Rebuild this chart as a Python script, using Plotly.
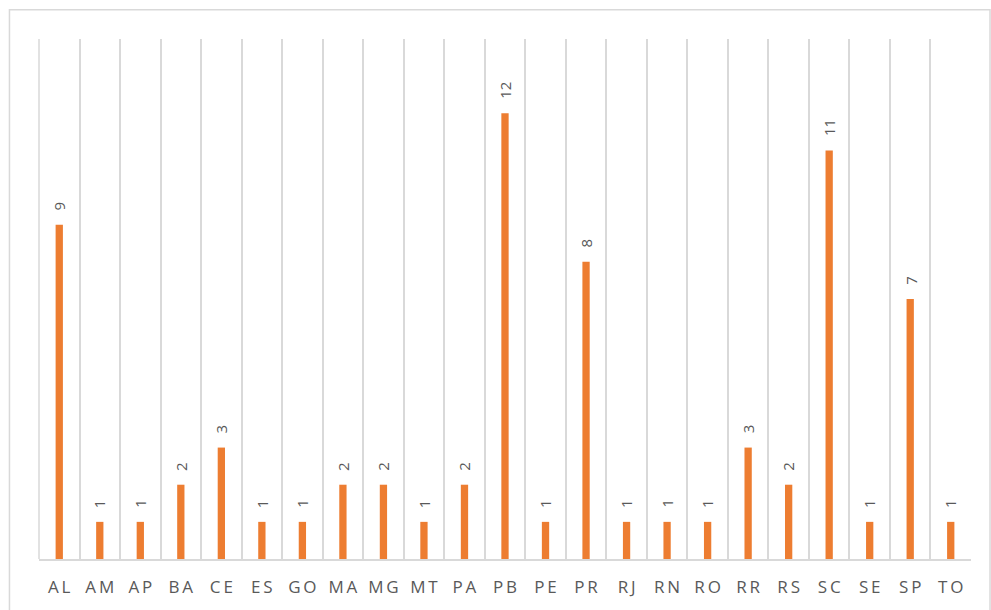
import plotly.graph_objects as go

states = ["AL", "AM", "AP", "BA", "CE", "ES", "GO", "MA", "MG", "MT", "PA", "PB",
          "PE", "PR", "RJ", "RN", "RO", "RR", "RS", "SC", "SE", "SP", "TO"]
counts = [9, 1, 1, 2, 3, 1, 1, 2, 2, 1, 2, 12, 1, 8, 1, 1, 1, 3, 2, 11, 1, 7, 1]

bar_color = "#ED7D31"
grid_color = "#D9D9D9"
text_color = "#595959"

# tick labels with a thin space between letters for a tracked look
tick_text = ["\u2009".join(s) for s in states]

fig = go.Figure(
    go.Bar(
        x=states,
        y=counts,
        marker=dict(color=bar_color, line=dict(width=0)),
        hoverinfo="x+y",
    )
)

# value labels, rotated, sitting just above each bar
for s, v in zip(states, counts):
    fig.add_annotation(
        x=s, y=v, xref="x", yref="y",
        text=str(v), showarrow=False,
        textangle=-90,
        xanchor="center", yanchor="bottom",
        yshift=12,
        font=dict(family="Open Sans", size=15, color=text_color),
    )

fig.update_layout(
    width=991,
    height=610,
    margin=dict(l=39, r=20, t=39, b=48),
    paper_bgcolor="white",
    plot_bgcolor="white",
    bargap=0.82,
    showlegend=False,
    xaxis=dict(
        type="category",
        tickson="boundaries",
        tickmode="array",
        tickvals=states,
        ticktext=tick_text,
        showgrid=True,
        gridcolor=grid_color,
        gridwidth=1.5,
        showline=True,
        linecolor=grid_color,
        linewidth=1.5,
        ticks="",
        ticklabelstandoff=12,
        tickfont=dict(family="Open Sans", size=17, color=text_color),
    ),
    yaxis=dict(
        range=[0, 14],
        showgrid=False,
        zeroline=False,
        showticklabels=False,
        ticks="",
    ),
    shapes=[
        dict(type="rect", xref="paper", yref="paper",
             x0=-0.0317, x1=1.0204, y0=-0.2, y1=1.0564,
             line=dict(color=grid_color, width=1.5), fillcolor="rgba(0,0,0,0)",
             layer="below"),
        dict(type="line", xref="paper", yref="paper",
             x0=0, x1=0, y0=0, y1=1,
             line=dict(color=grid_color, width=1.5)),
    ],
)

fig.write_html("out.html")
